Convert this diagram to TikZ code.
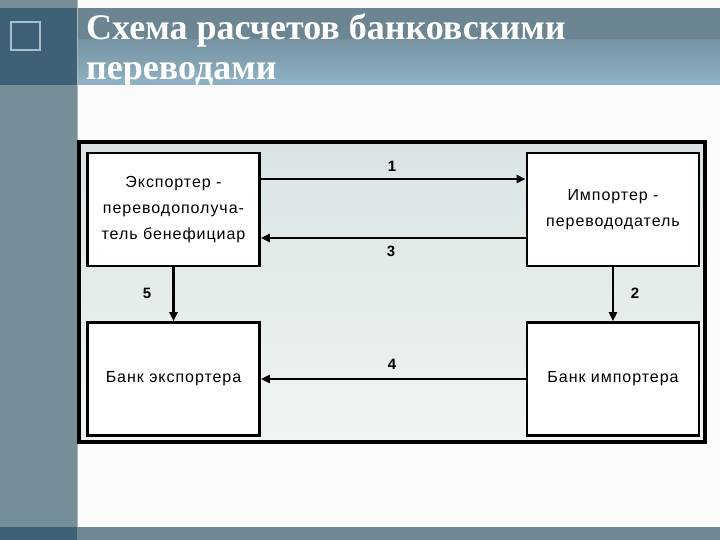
\documentclass[tikz,border=0pt]{standalone}
\usepackage{fontspec}
\setmainfont{Liberation Serif}
\setsansfont{Liberation Sans}
\usetikzlibrary{arrows.meta}
\definecolor{strip}{HTML}{768E98}
\definecolor{stripdark}{HTML}{3E6177}
\definecolor{bandtop}{HTML}{6B8593}
\definecolor{bandlow}{HTML}{8FB3C6}
\definecolor{innertop}{HTML}{D9E3E5}
\definecolor{innerlow}{HTML}{F0F4F4}
\definecolor{iconline}{HTML}{A8C0CC}
\tikzset{
  box/.style={draw=black, line width=2.6pt, fill=white, minimum width=172pt, minimum height=113pt, inner sep=0pt, align=center, font=\sffamily\fontsize{16}{26}\selectfont},
  conn/.style={draw=black, line width=2.2pt, -{Triangle[length=9pt,width=8pt]}},
  num/.style={font=\sffamily\bfseries\fontsize{15}{15}\selectfont, inner sep=0pt}
}
\begin{document}
\begin{tikzpicture}[x=1pt,y=-1pt]
\useasboundingbox (0,0) rectangle (720,540);
% background
\fill[white!97!gray] (0,0) rectangle (720,540);
% left strip
\fill[strip] (0,0) rectangle (77,540);
\fill[stripdark] (0,8) rectangle (77,85);
\draw[iconline, line width=1.2pt] (11,22) rectangle (40,50);
\draw[gray!60, line width=0.6pt] (77.5,0) -- (77.5,540);
% bottom strip
\fill[strip!85!stripdark] (77,527) rectangle (720,540);
\fill[stripdark] (0,527) rectangle (77,540);
% title band
\fill[bandtop] (78,8) rectangle (720,40);
\shade[top color=bandtop!70!bandlow, bottom color=bandlow] (78,40) rectangle (720,85);
\node[anchor=base west, inner sep=0pt, text=white, font=\bfseries\fontsize{36}{42}\selectfont] (t1) at (86,40) {Схема расчетов банковскими};
\node[anchor=base west, inner sep=0pt, text=white, font=\bfseries\fontsize{36}{42}\selectfont] (t2) at (86,80) {переводами};
% diagram frame
\shade[top color=innertop, bottom color=innerlow] (79,142) rectangle (705,442);
\draw[black, line width=4pt] (79,142) rectangle (705,442);
% boxes
\node[box] (exp) at (173.5,209.5) {\addfontfeature{LetterSpace=6}Экспортер -\\\addfontfeature{LetterSpace=6}переводополуча-\\\addfontfeature{LetterSpace=6}тель бенефициар};
\node[box] (imp) at (613,209.5) {\addfontfeature{LetterSpace=6}Импортер -\\\addfontfeature{LetterSpace=6}перевододатель};
\node[box] (bexp) at (173.5,379) {\addfontfeature{LetterSpace=6}Банк экспортера};
\node[box] (bimp) at (613,379) {\addfontfeature{LetterSpace=6}Банк импортера};
% connectors
\draw[conn] (exp.east |- 0,179) -- (imp.west |- 0,179);
\draw[conn] (imp.west |- 0,238) -- (exp.east |- 0,238);
\draw[conn] (bimp.west) -- (bexp.east);
\draw[conn] (exp.south) -- (bexp.north);
\draw[conn] (imp.south) -- (bimp.north);
% labels
\node[num] (n1) at (392,166) {1};
\node[num] (n3) at (391,251) {3};
\node[num] (n4) at (392,364) {4};
\node[num] (n5) at (147,293) {5};
\node[num] (n2) at (635,293) {2};
\end{tikzpicture}
\end{document}
